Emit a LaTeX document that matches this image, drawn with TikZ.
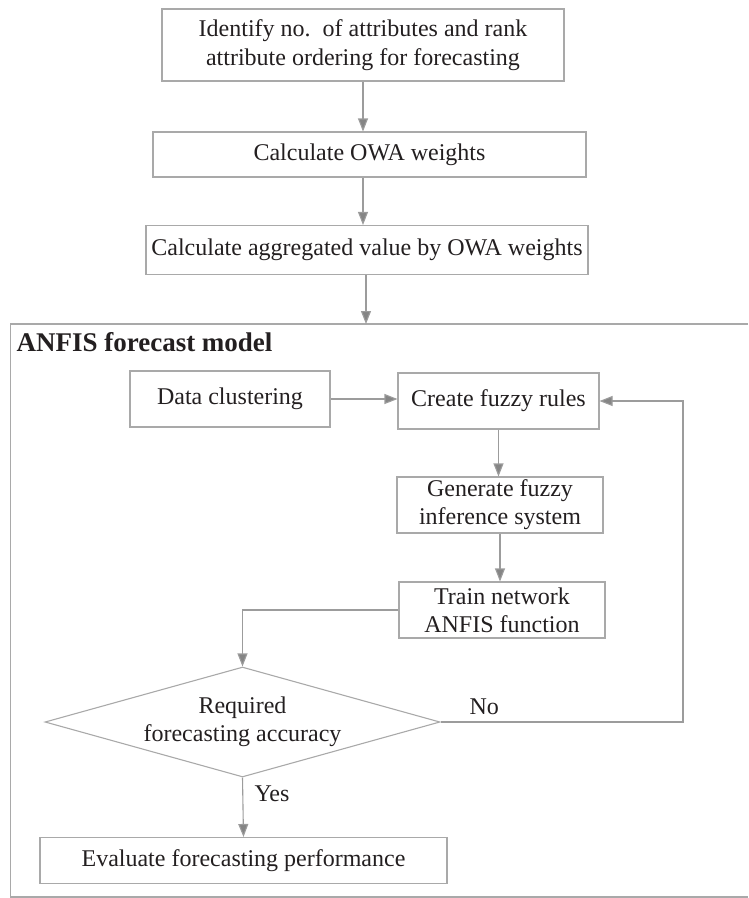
\documentclass[tikz,border=0pt]{standalone}
\usepackage{fontspec}
\setmainfont{Liberation Serif}
\usetikzlibrary{arrows.meta,shapes.geometric}
\definecolor{boxline}{HTML}{A9A9A9}
\definecolor{flowline}{HTML}{9C9C9C}
\definecolor{inktext}{HTML}{231F20}
\begin{document}
\begin{tikzpicture}[
    x=1pt, y=-1pt,
    stepbox/.style={draw=boxline, line width=1.1pt, inner sep=0pt, align=center,
        text=inktext, font=\fontsize{24}{28}\selectfont},
    testbox/.style={stepbox, shape=diamond, aspect=3.6},
    flow/.style={flowline, line width=1.1pt,
        -{Triangle[length=13pt,width=10pt,fill=flowline!85!black]}},
    tag/.style={text=inktext, font=\fontsize{24}{28}\selectfont, anchor=base west},
]
    \useasboundingbox (0,0) rectangle (748,898);

    % preparation of the attributes
    \node[stepbox, minimum width=402pt, minimum height=72pt,
        font=\fontsize{24}{29}\selectfont] (ident) at (363,45)
        {Identify no.\ \ of attributes and rank\\attribute ordering for forecasting};
    \node[stepbox, minimum width=433pt, minimum height=45pt] (owa) at (369.5,154.5)
        {Calculate OWA weights};
    \node[stepbox, minimum width=442pt, minimum height=49pt] (aggr) at (367,250)
        {Calculate aggregated value by OWA weights};

    % ANFIS frame, open at the right edge
    \draw[boxline, line width=1.1pt] (748,324) -- (10.5,324) -- (10.5,897) -- (748,897);
    \coordinate (frametop) at (366,324);
    \node[anchor=base west, text=inktext, font=\fontsize{27}{32}\selectfont\bfseries]
        (frametitle) at (13,351) {ANFIS forecast model};

    \node[stepbox, minimum width=200pt, minimum height=56pt] (clust) at (230,399)
        {Data clustering};
    \node[stepbox, minimum width=201pt, minimum height=56pt] (rules) at (498.5,401)
        {Create fuzzy rules};
    \node[stepbox, minimum width=206pt, minimum height=56pt] (fis) at (500,505)
        {Generate fuzzy\\inference system};
    \node[stepbox, minimum width=206pt, minimum height=56pt] (train) at (502,610)
        {Train network\\ANFIS function};
    \node[testbox, minimum width=395pt, minimum height=110pt] (acc) at (242.5,722)
        {Required\\forecasting accuracy};
    \node[stepbox, minimum width=407pt, minimum height=46pt] (eval) at (243.5,860.5)
        {Evaluate forecasting performance};
    \coordinate (loop) at (683,722);

    \draw[flow] (ident.south) -- (ident.south |- owa.north);
    \draw[flow] (owa.south -| ident.south) -- (ident.south |- aggr.north);
    \draw[flow] (aggr.south -| frametop) -- (frametop);
    \draw[flow] (clust.east) -- (clust.east -| rules.west);
    \draw[flow] (rules.south) -- (rules.south |- fis.north);
    \draw[flow] (fis.south) -- (fis.south |- train.north);
    \draw[flow] (train.west) -| (acc.north);
    \draw[flow] (acc.east) -- (loop) |- (rules.east);
    \draw[flow] (acc.south) -- (eval.north);

    \node[tag] (nolbl) at (466,714) {No};
    \node[tag] (yeslbl) at (251,801) {Yes};
\end{tikzpicture}
\end{document}
